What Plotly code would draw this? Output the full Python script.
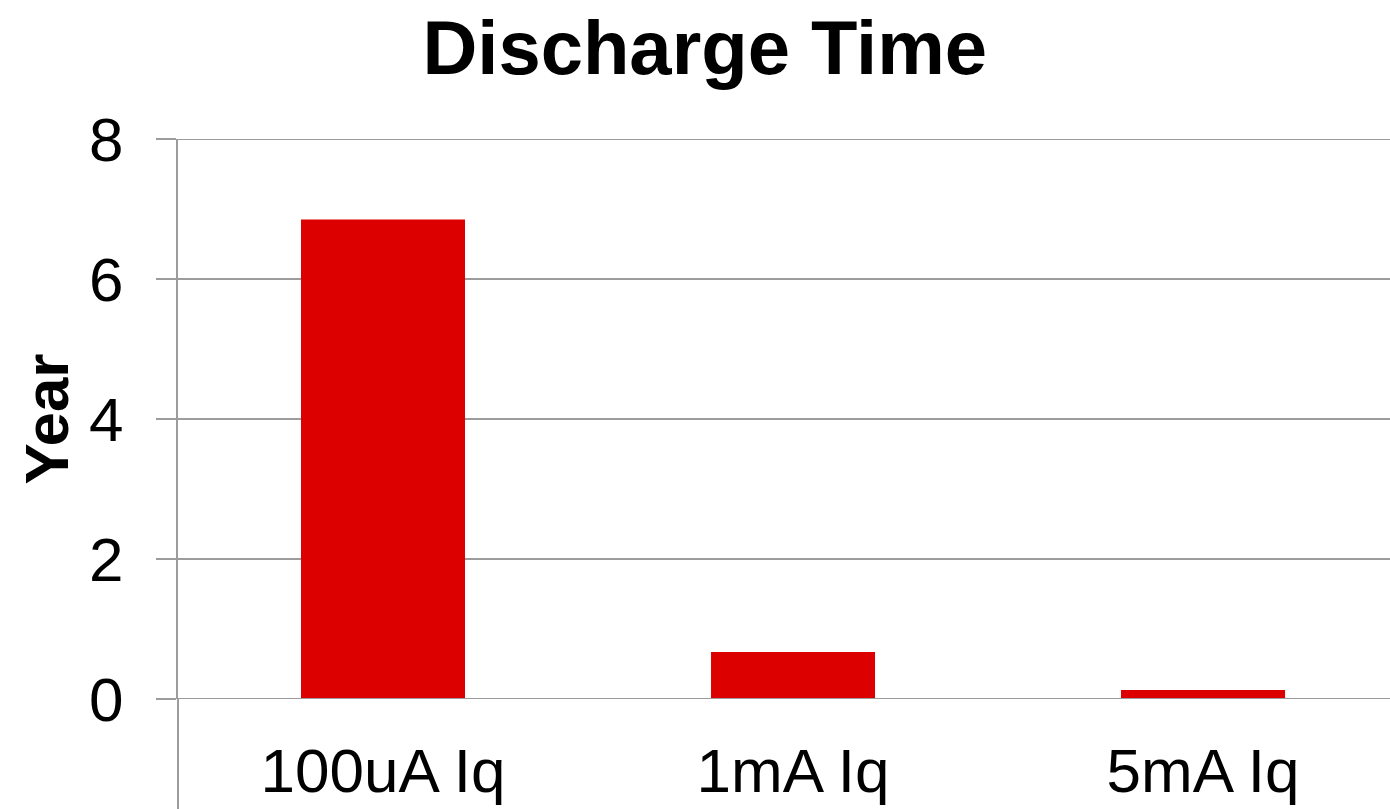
import plotly.graph_objects as go

categories = ["100uA Iq", "1mA Iq", "5mA Iq"]
years = [6.85, 0.67, 0.13]
y_ticks = [0, 2, 4, 6, 8]

FONT = "Arial, Liberation Sans, sans-serif"
GRID = "#9c9c9c"
LW = 2

fig = go.Figure(go.Bar(
    x=list(range(len(categories))), y=years,
    width=0.4, marker=dict(color="#dd0000", line=dict(width=0)),
))

fig.update_layout(
    width=1390, height=809,
    margin=dict(l=178, r=0, t=139, b=110),
    paper_bgcolor="white", plot_bgcolor="white",
    showlegend=False,
    title=dict(text="<b>Discharge Time</b>", x=0.507, xanchor="center",
               y=1 - 47 / 809, yanchor="middle", yref="container",
               font=dict(family=FONT, size=76, color="black")),
    font=dict(family=FONT, color="black"),
)
fig.update_xaxes(
    range=[-0.5, 2.456], tickmode="array",
    tickvals=list(range(len(categories))), ticktext=categories,
    tickfont=dict(size=62, family=FONT), showgrid=False, zeroline=False,
    showline=False, ticks="", ticklabelstandoff=30,
)
fig.update_yaxes(
    range=[0, 8], tickvals=y_ticks, tickfont=dict(size=62, family=FONT),
    showgrid=True, gridcolor=GRID, gridwidth=LW,
    zeroline=False, showline=True, linecolor=GRID, linewidth=LW,
    ticks="outside", ticklen=20, tickcolor=GRID, tickwidth=LW,
    ticklabelstandoff=20,
    title=dict(text="<b>Year</b>", font=dict(size=62, family=FONT), standoff=0),
)
# y axis line continues below the zero line, as in the reference
fig.add_shape(type="line", xref="paper", yref="paper", x0=0, x1=0, y0=0, y1=-0.25,
              line=dict(color=GRID, width=LW))
# zero and top gridlines
for v in (y_ticks[0], y_ticks[-1]):
    fig.add_shape(type="line", xref="paper", yref="y", x0=0, x1=1, y0=v, y1=v,
                  line=dict(color=GRID, width=LW), layer="above")

fig.write_html("out.html")
